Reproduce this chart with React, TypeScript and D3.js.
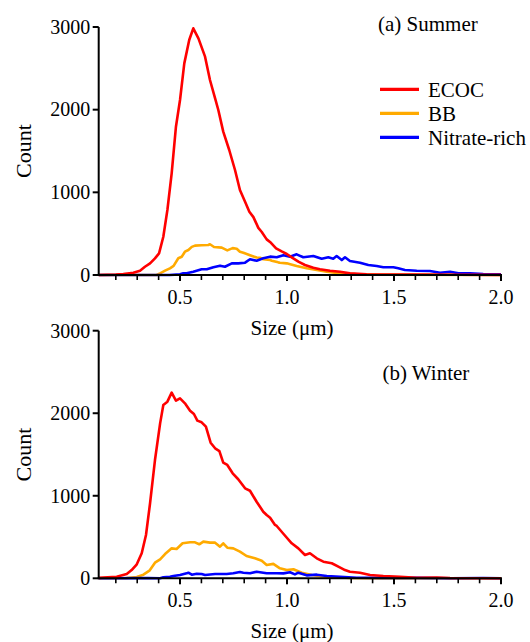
import React from "react";
import * as d3 from "d3";

type Pt = [number, number];

// Summer (a)
const ecocSummer: Pt[] = [[0.12,0],[0.2,5],[0.235,12],[0.282,28],[0.313,52],[0.336,100],[0.36,141],[0.383,202],[0.402,262],[0.422,463],[0.441,786],[0.461,1230],[0.481,1794],[0.5,2117],[0.52,2560],[0.543,2843],[0.562,2984],[0.586,2863],[0.617,2641],[0.64,2359],[0.664,2137],[0.679,1996],[0.702,1734],[0.73,1512],[0.757,1270],[0.78,1028],[0.804,887],[0.824,766],[0.843,700],[0.866,570],[0.882,520],[0.905,431],[0.925,390],[0.949,323],[0.975,285],[0.999,254],[1.022,214],[1.053,161],[1.084,121],[1.123,88],[1.154,69],[1.201,52],[1.248,40],[1.294,20],[1.372,8],[1.449,5],[1.6,4],[1.8,3],[2.0,2]];
const bbSummer: Pt[] = [[0.12,0],[0.39,0],[0.407,20],[0.43,52],[0.453,81],[0.47,110],[0.492,202],[0.508,220],[0.523,282],[0.539,302],[0.555,340],[0.57,355],[0.601,359],[0.632,363],[0.64,372],[0.659,339],[0.695,331],[0.721,298],[0.746,325],[0.765,318],[0.78,282],[0.796,270],[0.827,240],[0.858,212],[0.874,209],[0.889,190],[0.921,181],[0.929,173],[0.959,153],[0.967,149],[0.999,141],[1.011,133],[1.045,109],[1.092,81],[1.139,60],[1.186,40],[1.248,20],[1.326,8],[1.45,3],[2.0,1]];
const nitrateSummer: Pt[] = [[0.12,0],[0.45,0],[0.5,8],[0.515,20],[0.531,20],[0.562,40],[0.601,69],[0.625,69],[0.656,95],[0.687,113],[0.71,100],[0.742,141],[0.772,141],[0.804,149],[0.827,190],[0.858,173],[0.889,202],[0.921,222],[0.952,214],[0.983,240],[1.014,222],[1.045,250],[1.076,214],[1.123,230],[1.162,197],[1.193,214],[1.216,197],[1.232,230],[1.256,181],[1.271,214],[1.294,169],[1.341,149],[1.38,121],[1.419,109],[1.45,93],[1.497,93],[1.52,81],[1.551,60],[1.606,52],[1.668,48],[1.715,28],[1.762,40],[1.801,20],[1.855,20],[1.917,12],[2.0,8]];

// Winter (b)
const ecocWinter: Pt[] = [[0.12,5],[0.204,19],[0.251,52],[0.274,100],[0.298,170],[0.321,303],[0.341,525],[0.36,909],[0.383,1433],[0.407,1877],[0.422,2100],[0.441,2140],[0.461,2249],[0.481,2152],[0.5,2181],[0.523,2120],[0.547,2031],[0.565,1991],[0.581,1910],[0.601,1890],[0.621,1837],[0.643,1643],[0.664,1575],[0.684,1542],[0.702,1401],[0.721,1373],[0.746,1272],[0.772,1200],[0.804,1090],[0.827,1061],[0.858,928],[0.889,807],[0.905,767],[0.921,734],[0.944,646],[0.952,634],[0.983,540],[1.022,424],[1.053,363],[1.084,282],[1.107,303],[1.139,242],[1.17,201],[1.209,182],[1.24,141],[1.271,100],[1.294,80],[1.341,68],[1.388,40],[1.45,28],[1.528,19],[1.606,7],[1.7,10],[1.762,3],[2.0,0]];
const bbWinter: Pt[] = [[0.12,0],[0.25,3],[0.298,16],[0.329,44],[0.357,92],[0.383,189],[0.407,230],[0.43,294],[0.461,363],[0.484,355],[0.512,424],[0.547,436],[0.57,436],[0.59,412],[0.609,444],[0.64,432],[0.664,432],[0.687,383],[0.702,424],[0.721,371],[0.749,363],[0.78,323],[0.811,270],[0.85,242],[0.882,213],[0.905,161],[0.936,175],[0.967,121],[0.999,100],[1.03,109],[1.069,68],[1.116,40],[1.178,19],[1.294,3],[1.4,0],[2.0,0]];
const nitrateWinter: Pt[] = [[0.12,0],[0.35,2],[0.407,0],[0.422,12],[0.453,19],[0.469,28],[0.5,40],[0.531,60],[0.539,68],[0.555,44],[0.578,56],[0.601,52],[0.617,40],[0.664,52],[0.718,52],[0.749,61],[0.78,76],[0.796,68],[0.827,61],[0.858,80],[0.905,61],[0.952,61],[0.983,60],[1.014,73],[1.037,48],[1.053,68],[1.092,36],[1.139,44],[1.186,28],[1.248,19],[1.326,7],[1.45,5],[1.606,5],[1.762,0],[1.917,3],[2.0,0]];

const seriesNames = ["ECOC", "BB", "Nitrate-rich"];
const seriesColors = ["#ff0000", "#ffaa00", "#0000ff"];
const xMajorTicks = [0.5, 1.0, 1.5, 2.0];
const xMinorTicks = [0.2, 0.3, 0.4, 0.6, 0.7, 0.8, 0.9, 1.1, 1.2, 1.3, 1.4, 1.6, 1.7, 1.8, 1.9];
const yTicks = [0, 1000, 2000, 3000];
const panelTitles = ["(a) Summer", "(b) Winter"];

const FONT = "Liberation Serif, DejaVu Serif, Times New Roman, serif";
const txt = (size: number) => ({ fontFamily: FONT, fontSize: size + "px" });

const x = d3.scaleLinear().domain([0.12, 2.0]).range([98.7, 501]);

function Panel({ y0, y1, data, title, titleX, titleY, legend }: any) {
  const y = d3.scaleLinear().domain([0, 3000]).range([y0, y1]);
  const line = d3.line<Pt>().x((d) => x(d[0])).y((d) => y(d[1]));
  const order = [1, 2, 0];
  const axisX = x.range()[0];
  return (
    <g>
      {order.map((i) => (
        <path key={i} d={line(data[i]) || ""} fill="none" stroke={seriesColors[i]} strokeWidth={2.6} strokeLinejoin="round" />
      ))}
      <line x1={axisX} x2={axisX} y1={y(3000)} y2={y(0)} stroke="#000" strokeWidth={2} />
      {yTicks.map((t) => (
        <g key={t}>
          <line x1={axisX - 6} x2={axisX} y1={y(t)} y2={y(t)} stroke="#000" strokeWidth={2} />
          <text x={axisX - 8.5} y={y(t)} dy="0.34em" textAnchor="end" style={txt(20)}>{t}</text>
        </g>
      ))}
      <line x1={axisX - 1} x2={x(2.0) + 1} y1={y(0)} y2={y(0)} stroke="#000" strokeWidth={2} />
      {xMajorTicks.map((t) => (
        <g key={t}>
          <line x1={x(t)} x2={x(t)} y1={y(0)} y2={y(0) + 6} stroke="#000" strokeWidth={2} />
          <text x={x(t)} y={y(0) + 29} textAnchor="middle" style={txt(20)}>{t.toFixed(1)}</text>
        </g>
      ))}
      {xMinorTicks.map((t) => (
        <line key={t} x1={x(t)} x2={x(t)} y1={y(0)} y2={y(0) + 5} stroke="#000" strokeWidth={1.6} />
      ))}
      <text x={292} y={y(0) + 60} textAnchor="middle" style={txt(21)}>Size (μm)</text>
      <text transform={`translate(31,${(y(0) + y(3000)) / 2}) rotate(-90)`} textAnchor="middle" style={txt(22)}>Count</text>
      <text x={titleX} y={titleY} style={txt(21)}>{title}</text>
      {legend &&
        seriesNames.map((n, i) => (
          <g key={n}>
            <line x1={380} x2={419} y1={89.3 + i * 24} y2={89.3 + i * 24} stroke={seriesColors[i]} strokeWidth={3.2} />
            <text x={428} y={96.5 + i * 24} style={txt(21)}>{n}</text>
          </g>
        ))}
    </g>
  );
}

export default function App() {
  return (
    <svg width={530} height={642} style={{ position: "absolute", left: 0, top: 0, background: "#fff" }}>
      <rect width={530} height={642} fill="#fff" />
      <Panel y0={275} y1={27} data={[ecocSummer, bbSummer, nitrateSummer]} title={panelTitles[0]} titleX={378} titleY={31} legend />
      <Panel y0={578.3} y1={330.7} data={[ecocWinter, bbWinter, nitrateWinter]} title={panelTitles[1]} titleX={382.5} titleY={380} legend={false} />
    </svg>
  );
}
